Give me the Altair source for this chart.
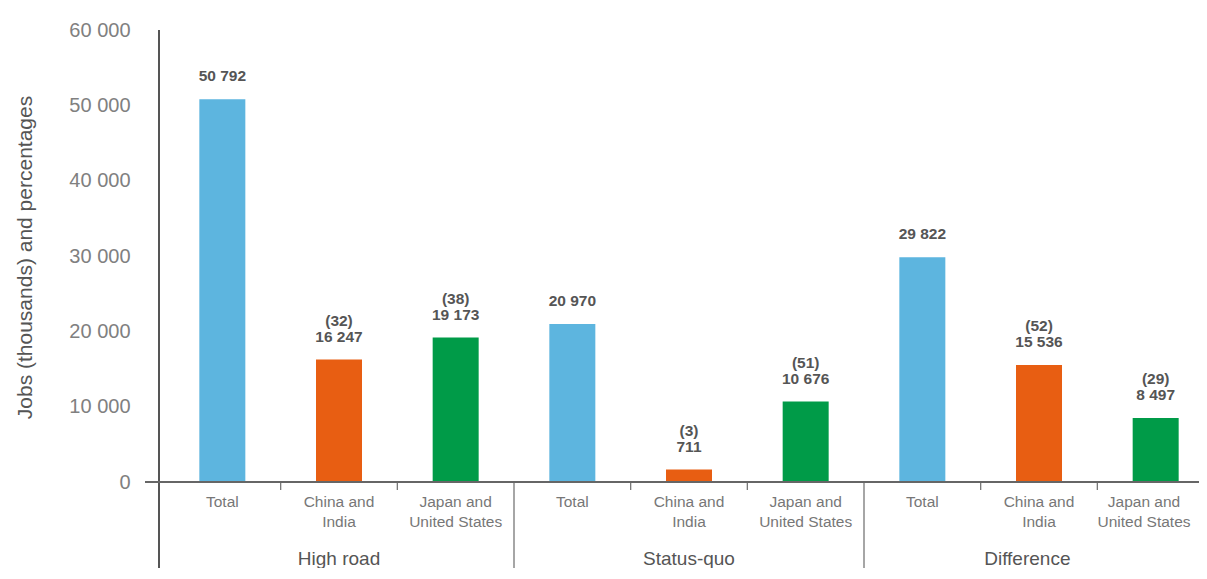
import altair as alt
import pandas as pd

categories = ["Total", "China and\nIndia", "Japan and\nUnited States"] * 3
groups = ["High road", "Status-quo", "Difference"]
scenario = ["High road"] * 3 + ["Status-quo"] * 3 + ["Difference"] * 3
series = ["Total", "China and India", "Japan and United States"] * 3
values = [50792, 16247, 19173, 20970, 711, 10676, 29822, 15536, 8497]
# bar heights as drawn in the picture (the 711 bar is drawn taller than its value)
bar_heights = [50792, 16247, 19173, 20970, 1650, 10676, 29822, 15536, 8497]
percentages = [None, 32, 38, None, 3, 51, None, 52, 29]
y_ticks = [0, 10000, 20000, 30000, 40000, 50000, 60000]


def fmt(v):
    return f"{v:,}".replace(",", " ")


pos = [i + 0.5 for i in range(9)]
# last category label nudged left slightly so it stays inside the page
cat_pos = pos[:8] + [8.4]

df = pd.DataFrame({
    "pos": pos,
    "cat_pos": cat_pos,
    "cat": categories,
    "series": series,
    "scenario": scenario,
    "value": values,
    "height": bar_heights,
    "num": [fmt(v) for v in values],
    "pct": ["" if p is None else f"({p})" for p in percentages],
})
grp_df = pd.DataFrame({"pos": [1.5, 4.5, 7.4], "group": groups})
tick_df = pd.DataFrame({"pos": [1, 2, 4, 5, 7, 8]})
sep_df = pd.DataFrame({"pos": [3, 6]})

W = 1040
H = 452
STEP = 117.8
xscale = alt.Scale(domain=[0, W / STEP], nice=False, zero=False)
yscale = alt.Scale(domain=[0, 60000], nice=False)

color_scale = alt.Scale(
    domain=["Total", "China and India", "Japan and United States"],
    range=["#5DB5DF", "#E85E12", "#009B48"],
)

base = alt.Chart(df)

bars = base.mark_bar(size=46).encode(
    x=alt.X("pos:Q", scale=xscale, axis=None),
    y=alt.Y(
        "height:Q",
        scale=yscale,
        axis=alt.Axis(
            values=y_ticks,
            title="Jobs (thousands) and percentages",
            labelExpr="datum.value == 0 ? '0' : format(datum.value / 1000, 'd') + ' 000'",
            domain=False,
            ticks=False,
            tickSize=0,
            grid=False,
            labelPadding=29,
            labelFontSize=20,
            labelColor="#808080",
            labelFont="Liberation Sans",
            titleFont="Liberation Sans",
            titleFontSize=21,
            titleFontWeight="normal",
            titleColor="#555555",
            titleX=-134,
            titleY=227,
            titleAlign="center",
            titleBaseline="middle",
            titleAngle=-90,
        ),
    ),
    color=alt.Color("series:N", scale=color_scale, legend=None),
)

num_labels = base.mark_text(
    baseline="middle", dy=-23, fontSize=15.5, fontWeight="bold",
    color="#555555", font="Liberation Sans",
).encode(
    x=alt.X("pos:Q", scale=xscale),
    y=alt.Y("height:Q", scale=yscale),
    text="num:N",
)

pct_labels = base.mark_text(
    baseline="middle", dy=-39, fontSize=15.5, fontWeight="bold",
    color="#555555", font="Liberation Sans",
).encode(
    x=alt.X("pos:Q", scale=xscale),
    y=alt.Y("height:Q", scale=yscale),
    text="pct:N",
)

cat_labels = base.mark_text(
    baseline="top", fontSize=15.5, color="#777777", font="Liberation Sans",
    lineBreak="\n", lineHeight=20,
).encode(
    x=alt.X("cat_pos:Q", scale=xscale),
    y=alt.value(465),
    text="cat:N",
)

grp_labels = alt.Chart(grp_df).mark_text(
    baseline="middle", fontSize=19, color="#555555", font="Liberation Sans",
).encode(
    x=alt.X("pos:Q", scale=xscale),
    y=alt.value(529),
    text="group:N",
)

ticks = alt.Chart(tick_df).mark_rule(color="#777777", strokeWidth=1.3).encode(
    x=alt.X("pos:Q", scale=xscale),
    y=alt.value(H),
    y2=alt.value(H + 8),
)

seps = alt.Chart(sep_df).mark_rule(color="#888888", strokeWidth=1.5).encode(
    x=alt.X("pos:Q", scale=xscale),
    y=alt.value(H),
    y2=alt.value(H + 96),
)

yline = alt.Chart(grp_df).mark_rule(color="#555555", strokeWidth=2).encode(
    x=alt.value(0),
    y=alt.value(0),
    y2=alt.value(H + 96),
)

baseline = alt.Chart(grp_df).mark_rule(color="#666666", strokeWidth=2).encode(
    x=alt.value(-14),
    x2=alt.value(W + 20),
    y=alt.value(H),
)

chart = alt.layer(
    bars, num_labels, pct_labels, cat_labels, grp_labels, ticks, seps, yline, baseline
).properties(
    width=W,
    height=H,
    padding={"left": 151, "top": 22, "right": 0, "bottom": 86},
    autosize=alt.AutoSizeParams(type="none"),
).configure_view(stroke=None)

chart.save("out.html", embed_options={"renderer": "svg", "actions": False})
